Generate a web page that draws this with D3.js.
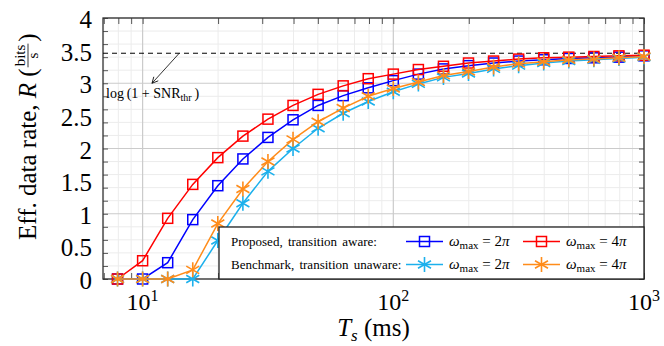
<!DOCTYPE html>
<html>
<head>
<meta charset="utf-8">
<script src="https://cdn.jsdelivr.net/npm/d3@7"></script>
<style>
  body { margin: 0; background: #fff; }
  text { font-family: "Liberation Serif", "Times New Roman", serif; fill: #000; }
</style>
</head>
<body>
<div id="chart"></div>
<script>
// sampling periods T_s (ms)
var ts = [7.943, 10, 12.59, 15.85, 19.95, 25.12, 31.62, 39.81, 50.12, 63.10, 79.43,
          100, 125.9, 158.5, 199.5, 251.2, 316.2, 398.1, 501.2, 631.0, 794.3, 1000];

// effective data rate R (bits/s)
var rateAware2pi   = [0, 0, 0.25, 0.91, 1.43, 1.84, 2.17, 2.44, 2.66, 2.81, 2.93,
                      3.04, 3.14, 3.22, 3.27, 3.31, 3.34, 3.36, 3.38, 3.39, 3.40, 3.42];
var rateAware4pi   = [0, 0.28, 0.93, 1.45, 1.86, 2.19, 2.45, 2.66, 2.83, 2.96, 3.07,
                      3.14, 3.21, 3.26, 3.31, 3.34, 3.37, 3.39, 3.40, 3.41, 3.42, 3.43];
var rateUnaware2pi = [0, 0, 0, 0, 0.59, 1.16, 1.65, 2.00, 2.31, 2.54, 2.72,
                      2.87, 2.99, 3.09, 3.15, 3.22, 3.27, 3.31, 3.34, 3.36, 3.38, 3.40];
var rateUnaware4pi = [0, 0, 0, 0.14, 0.85, 1.38, 1.80, 2.14, 2.41, 2.62, 2.80,
                      2.92, 3.02, 3.12, 3.18, 3.25, 3.30, 3.33, 3.36, 3.37, 3.39, 3.41];

var rateThreshold = 3.46;            // log(1 + SNR_thr)
var xTickLabels = [10, 100, 1000];
var yTickLabels = [0, 0.5, 1, 1.5, 2, 2.5, 3, 3.5, 4];

var series = [
  {name: "2\u03c0", values: rateAware2pi,   color: "#0000ff", mark: "square"},
  {name: "4\u03c0", values: rateAware4pi,   color: "#ff0000", mark: "square"},
  {name: "2\u03c0", values: rateUnaware2pi, color: "#1cb0ec", mark: "star"},
  {name: "4\u03c0", values: rateUnaware4pi, color: "#ff8c1a", mark: "star"}
];

var margin = {top: 18, right: 20, bottom: 67, left: 103},
    width = 664 - margin.left - margin.right,
    height = 346 - margin.top - margin.bottom;

var root = d3.select("#chart")
  .append("svg")
    .attr("width", 664)
    .attr("height", 346);

root.append("defs").append("marker")
    .attr("id", "arrow")
    .attr("viewBox", "-7 -4 8 8")
    .attr("markerWidth", 8)
    .attr("markerHeight", 8)
    .attr("markerUnits", "userSpaceOnUse")
    .attr("orient", "auto")
  .append("path")
    .attr("d", "M-6,-3L0,0L-6,3")
    .attr("fill", "none")
    .attr("stroke", "#000")
    .attr("stroke-width", 0.8);

var svg = root.append("g")
    .attr("transform", "translate(" + margin.left + "," + margin.top + ")");

var x = d3.scaleLog().domain([6.95, 1000]).range([0, width]);
var y = d3.scaleLinear().domain([0, 4]).range([height, 0]);

function isDecade(d) { var l = Math.log10(d); return Math.abs(l - Math.round(l)) < 1e-9; }
function isHalf(d) { return Math.abs(d * 2 - Math.round(d * 2)) < 1e-9; }

// grid
var xAll = x.ticks();
var yAll = y.ticks(16);
svg.append("g").selectAll("line")
  .data(xAll.filter(function(d) { return !isDecade(d); }))
  .enter().append("line")
    .attr("x1", function(d) { return x(d); })
    .attr("x2", function(d) { return x(d); })
    .attr("y1", 0).attr("y2", height)
    .attr("stroke", "#ececec");
svg.append("g").selectAll("line")
  .data(yAll.filter(function(d) { return !isHalf(d); }))
  .enter().append("line")
    .attr("x1", 0).attr("x2", width)
    .attr("y1", function(d) { return y(d); })
    .attr("y2", function(d) { return y(d); })
    .attr("stroke", "#ececec");
svg.append("g").selectAll("line")
  .data(xAll.filter(isDecade))
  .enter().append("line")
    .attr("x1", function(d) { return x(d); })
    .attr("x2", function(d) { return x(d); })
    .attr("y1", 0).attr("y2", height)
    .attr("stroke", "#cbcbcb")
    .attr("stroke-width", 1.2);
svg.append("g").selectAll("line")
  .data(yAll.filter(isHalf))
  .enter().append("line")
    .attr("x1", 0).attr("x2", width)
    .attr("y1", function(d) { return y(d); })
    .attr("y2", function(d) { return y(d); })
    .attr("stroke", "#cbcbcb")
    .attr("stroke-width", 1.2);

// inward ticks on all four sides
function tickOnly(axis) {
  return function(g) {
    g.call(axis.tickFormat("").tickSizeOuter(0));
    g.select(".domain").remove();
    g.selectAll(".tick line").attr("stroke", "#555");
  };
}
svg.append("g").call(tickOnly(d3.axisLeft(y).tickValues(yAll).tickSize(-5)));
svg.append("g").attr("transform", "translate(" + width + ",0)")
  .call(tickOnly(d3.axisRight(y).tickValues(yAll).tickSize(-5)));
svg.append("g").call(tickOnly(d3.axisTop(x).tickValues(xAll).tickSize(-6)));
svg.append("g").attr("transform", "translate(0," + height + ")")
  .call(tickOnly(d3.axisBottom(x).tickValues(xAll).tickSize(-6)));

// frame
svg.append("rect")
    .attr("width", width).attr("height", height)
    .attr("fill", "none")
    .attr("stroke", "#333")
    .attr("stroke-width", 1.3);

// threshold line and its note
svg.append("line")
    .attr("x1", 0).attr("x2", width)
    .attr("y1", y(rateThreshold)).attr("y2", y(rateThreshold))
    .attr("stroke", "#000")
    .attr("stroke-dasharray", "5,4");
svg.append("line")
    .attr("x1", x(14)).attr("y1", y(rateThreshold))
    .attr("x2", x(10.9)).attr("y2", y(3.0))
    .attr("stroke", "#000")
    .attr("stroke-width", 0.8)
    .attr("marker-end", "url(#arrow)");
var note = svg.append("text")
    .attr("x", 3).attr("y", y(3.0) + 15)
    .style("font-size", "14px");
note.append("tspan").text("log\u2009(1 + SNR");
note.append("tspan").attr("dy", 3).style("font-size", "10px").text("thr");
note.append("tspan").attr("dy", -3).text("\u2009)");

// series
var line = d3.line()
  .x(function(d, i) { return x(ts[i]); })
  .y(function(d) { return y(d); });

function drawMark(g, mark, color) {
  if (mark === "square") {
    g.append("rect")
      .attr("x", -5).attr("y", -5).attr("width", 10).attr("height", 10)
      .attr("fill", "none").attr("stroke", color).attr("stroke-width", 1.5);
  } else {
    var r = 7.5, a = r * 0.866, b = r * 0.5;
    g.append("path")
      .attr("d", "M0," + (-r) + "L0," + r + "M" + (-a) + "," + (-b) + "L" + a + "," + b +
                 "M" + (-a) + "," + b + "L" + a + "," + (-b))
      .attr("fill", "none").attr("stroke", color).attr("stroke-width", 1.6);
  }
}

series.forEach(function(s) {
  svg.append("path")
    .datum(s.values)
    .attr("d", line)
    .attr("fill", "none")
    .attr("stroke", s.color)
    .attr("stroke-width", 1.5);
  svg.append("g").selectAll("g")
    .data(s.values)
    .enter().append("g")
      .attr("transform", function(d, i) { return "translate(" + x(ts[i]) + "," + y(d) + ")"; })
      .each(function() { drawMark(d3.select(this), s.mark, s.color); });
});

// legend
var legW = 425, legH = 52;
var leg = svg.append("g")
    .attr("transform", "translate(" + (width - legW) + "," + (height - legH) + ")");
leg.append("rect")
    .attr("width", legW).attr("height", legH)
    .attr("fill", "#fff")
    .attr("stroke", "#222")
    .attr("stroke-width", 1.3);
var rowY = [14.5, 37.5];
var rowText = ["Proposed, transition aware:", "Benchmark, transition unaware:"];
rowText.forEach(function(t, r) {
  leg.append("text")
    .attr("x", 12).attr("y", rowY[r] + 4)
    .style("font-size", "13px")
    .style("word-spacing", "2px")
    .text(t);
});
series.forEach(function(s, i) {
  var r = Math.floor(i / 2), c = i % 2;
  var x0 = 187 + c * 117;
  leg.append("line")
    .attr("x1", x0).attr("x2", x0 + 37)
    .attr("y1", rowY[r]).attr("y2", rowY[r])
    .attr("stroke", s.color).attr("stroke-width", 1.5);
  var m = leg.append("g").attr("transform", "translate(" + (x0 + 18.5) + "," + rowY[r] + ")");
  drawMark(m, s.mark, s.color);
  var t = leg.append("text")
    .attr("x", x0 + 43).attr("y", rowY[r] + 4)
    .style("font-size", "15px");
  t.append("tspan").style("font-style", "italic").text("\u03c9");
  t.append("tspan").attr("dy", 3).style("font-size", "11px").text("max");
  t.append("tspan").attr("dy", -3).text(" = " + s.name.charAt(0));
  t.append("tspan").style("font-style", "italic").text(s.name.charAt(1));
});

// tick labels
svg.append("g").selectAll("text")
  .data(yTickLabels)
  .enter().append("text")
    .attr("x", -11)
    .attr("y", function(d) { return y(d); })
    .attr("dy", "0.4em")
    .attr("text-anchor", "end")
    .style("font-size", "25px")
    .text(function(d) { return d; });

svg.append("g").selectAll("text")
  .data(xTickLabels)
  .enter().append("text")
    .attr("x", function(d) { return x(d); })
    .attr("y", height + 31)
    .attr("text-anchor", "middle")
    .style("font-size", "24px")
    .each(function(d) {
      var t = d3.select(this);
      t.append("tspan").text("10");
      t.append("tspan").attr("dy", -9).style("font-size", "16px").text(Math.round(Math.log10(d)));
    });

// axis titles
var xt = svg.append("text")
    .attr("x", width / 2)
    .attr("y", height + 57)
    .attr("text-anchor", "middle")
    .style("font-size", "25px");
xt.append("tspan").style("font-style", "italic").text("T");
xt.append("tspan").attr("dy", 5).style("font-size", "17px").style("font-style", "italic").text("s");
xt.append("tspan").attr("dy", -5).text(" (ms)");

var yt = root.append("g").attr("transform", "translate(36,240) rotate(-90)");
var yMain = yt.append("text").style("font-size", "25px");
yMain.append("tspan").text("Eff. data rate, ");
yMain.append("tspan").style("font-style", "italic").text("R");
yMain.append("tspan").text(" (");
var L = yMain.node().getComputedTextLength() + 1;
var num = yt.append("text").attr("y", -11).style("font-size", "15px").text("bits");
var fw = num.node().getComputedTextLength() + 2;
num.attr("x", L + 1);
yt.append("line")
    .attr("x1", L).attr("x2", L + fw)
    .attr("y1", -8).attr("y2", -8)
    .attr("stroke", "#000").attr("stroke-width", 0.8);
yt.append("text").attr("x", L + fw / 2).attr("y", 2)
    .attr("text-anchor", "middle").style("font-size", "15px").text("s");
yt.append("text").attr("x", L + fw + 2).style("font-size", "25px").text(")");
</script>
</body>
</html>
